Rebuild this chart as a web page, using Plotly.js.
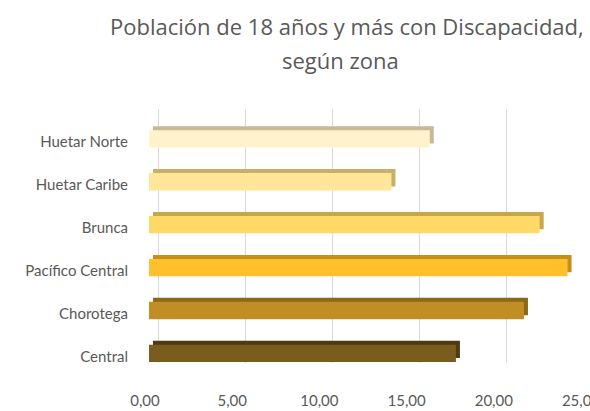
<!DOCTYPE html>
<html>
<head>
<meta charset="utf-8">
<script src="https://cdn.plot.ly/plotly-3.0.1.min.js"></script>
<style>html,body{margin:0;padding:0;background:#fff;}#chart{width:590px;height:411px;}</style>
</head>
<body>
<div id="chart"></div>
<script>
// Data (bottom to top)
const zonas = ["Central", "Chorotega", "Pacífico Central", "Brunca", "Huetar Caribe", "Huetar Norte"];
const valores = [17.6, 21.5, 24.0, 22.4, 13.9, 16.1];
const tickValues = [0, 5, 10, 15, 20, 25];
const tickLabels = ["0,00", "5,00", "10,00", "15,00", "20,00", "25,00"];
const titleLine1 = "Población de 18 años y más con Discapacidad,";
const titleLine2 = "según zona";

// Styling
const pxPerUnit = 17.44;
const xMax = 25 + 5 / pxPerUnit;    // plot area runs to the right edge
const frontColors = ["#7A5C1E", "#BF8F26", "#FFC02B", "#FFD966", "#FFE699", "#FFF2CC"];
const sideColors  = ["#4E3A11", "#8C6919", "#C4901D", "#C7A54A", "#C6B06C", "#C5BA95"];
const depthShift = 4 / pxPerUnit;   // 3D depth of bar faces
const wallShift = 9 / pxPerUnit;    // back wall gridlines
const textColor = "#595959";
const fontFam = "Lato, 'Open Sans', sans-serif";
const titleFam = "'Open Sans', Lato, sans-serif";

const traces = [
  { // side/top faces (depth)
    type: "bar", orientation: "h", x: valores, y: zonas,
    xaxis: "x", yaxis: "y",
    width: 0.405, offset: -0.032,
    marker: { color: sideColors, line: { width: 0 } },
    hoverinfo: "skip", showlegend: false
  },
  { // front faces
    type: "bar", orientation: "h", x: valores, y: zonas,
    xaxis: "x2", yaxis: "y",
    width: 0.405, offset: -0.125,
    marker: { color: frontColors, line: { width: 0 } },
    showlegend: false
  },
  { // empty carrier for the back-wall grid axis
    type: "scatter", mode: "markers", x: [], y: [],
    xaxis: "x3", yaxis: "y", showlegend: false, hoverinfo: "skip"
  }
];

const layout = {
  width: 590, height: 411,
  margin: { l: 149, r: 0, t: 109, b: 48 },
  paper_bgcolor: "#ffffff", plot_bgcolor: "rgba(0,0,0,0)",
  barmode: "overlay",
  title: {
    text: titleLine1,
    font: { family: titleFam, size: 22, color: textColor },
    x: 0.588, xanchor: "center", xref: "container",
    y: 0.934, yanchor: "middle", yref: "container"
  },
  annotations: [{
    text: titleLine2, showarrow: false,
    xref: "paper", yref: "paper", x: 0.434, y: 1.193,
    xanchor: "center", yanchor: "middle",
    font: { family: titleFam, size: 22, color: textColor }
  }],
  xaxis: {
    anchor: "y",
    range: [-depthShift, xMax - depthShift],
    showgrid: false, zeroline: false, showline: false,
    showticklabels: false, ticks: "", fixedrange: true
  },
  xaxis2: {
    anchor: "y", overlaying: "x", side: "bottom",
    range: [0, xMax],
    showgrid: false, zeroline: false, showline: false,
    tickmode: "array", tickvals: tickValues, ticktext: tickLabels,
    ticks: "", ticklabelstandoff: 27, ticklabelshift: -4,
    ticklabeloverflow: "allow",
    tickfont: { family: fontFam, size: 15, color: textColor }
  },
  xaxis3: {
    anchor: "y", overlaying: "x", side: "bottom",
    range: [-wallShift, xMax - wallShift],
    showgrid: true, gridcolor: "#D9D9D9", gridwidth: 1,
    tickmode: "array", tickvals: tickValues,
    zeroline: false, showline: false, showticklabels: false, ticks: ""
  },
  yaxis: {
    type: "category",
    categoryorder: "array", categoryarray: zonas,
    range: [-0.147, 5.774],
    showgrid: false, zeroline: false, showline: false,
    ticks: "", ticklabelstandoff: 20,
    tickfont: { family: fontFam, size: 15, color: textColor }
  }
};

Plotly.newPlot("chart", traces, layout, { displayModeBar: false, staticPlot: true });
</script>
</body>
</html>
